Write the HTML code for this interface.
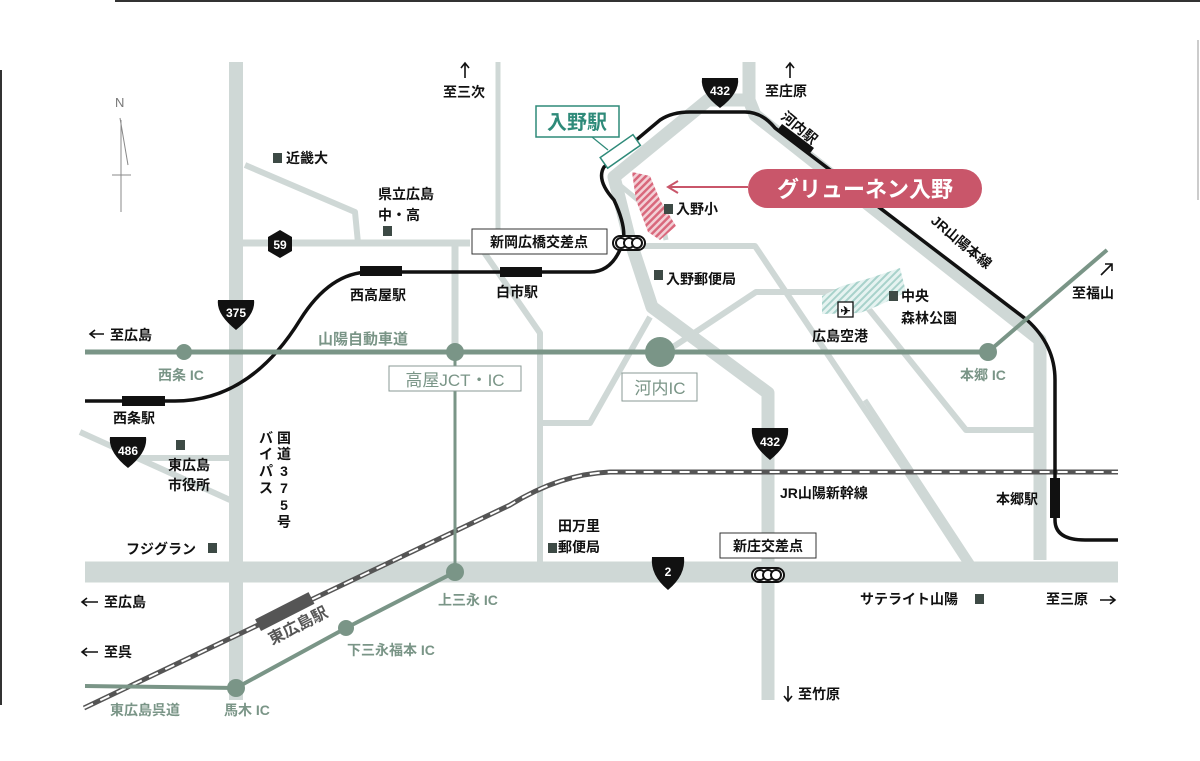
<!DOCTYPE html>
<html><head><meta charset="utf-8"><style>
html,body{margin:0;padding:0;background:#fff;}
svg{display:block;}
text{font-family:"Liberation Sans","Noto Sans CJK JP",sans-serif;font-weight:bold;}
</style></head><body>
<svg width="1200" height="761" viewBox="0 0 1200 761" xmlns="http://www.w3.org/2000/svg">
<defs>
<pattern id="ph" width="5" height="5" patternUnits="userSpaceOnUse" patternTransform="rotate(45)"><rect width="5" height="5" fill="#f2d0d6"/><rect width="2.5" height="5" fill="#d9687c"/></pattern>
<pattern id="th" width="5" height="5" patternUnits="userSpaceOnUse" patternTransform="rotate(45)"><rect width="5" height="5" fill="#e6f3f1"/><rect width="2" height="5" fill="#a8d2cb"/></pattern>
</defs>
<!-- frame -->
<line x1="115" y1="1" x2="1200" y2="1" stroke="#333" stroke-width="2"/>
<line x1="1" y1="70" x2="1" y2="705" stroke="#333" stroke-width="2"/>
<line x1="1198" y1="40" x2="1198" y2="200" stroke="#999" stroke-width="1"/>
<!-- north -->
<text x="115" y="107" font-size="13" fill="#777" style="font-weight:normal">N</text>
<polyline points="120,118 128,165" fill="none" stroke="#888" stroke-width="1"/>
<line x1="121" y1="120" x2="121" y2="212" stroke="#888" stroke-width="1"/>
<line x1="112" y1="175" x2="131" y2="175" stroke="#888" stroke-width="1"/>
<!-- gray roads -->
<g fill="none" stroke="#cfd8d6" stroke-linejoin="round">
<line x1="236" y1="62" x2="236" y2="700" stroke-width="14"/>
<polyline points="245,165 355,212 358,243" stroke-width="6"/>
<line x1="240" y1="243" x2="470" y2="243" stroke-width="7"/>
<line x1="455" y1="243" x2="455" y2="350" stroke-width="7"/>
<line x1="498" y1="62" x2="498" y2="230" stroke-width="5"/>
<polyline points="479,245 540,333 540,572" stroke-width="6"/>
<polyline points="640,246 755,246 910,477 972,572" stroke-width="6"/>
<polyline points="543,423 590,423 650,317" stroke-width="6"/>
<polyline points="673,347 756,292 855,292 966,430 1040,430" stroke-width="6"/>
<polyline points="749,62 749,100 708,100 614,177 629,237 652,307 768,393 768,700" stroke-width="13"/>
<polyline points="749,100 755,115 1040,340 1040,560" stroke-width="13"/>
<polyline points="616,182 662,220 666,240" stroke-width="5"/>
<line x1="865" y1="400" x2="972" y2="563" stroke-width="5"/>
<polyline points="80,432 230,500" stroke-width="6"/>
<line x1="140" y1="458" x2="236" y2="458" stroke-width="6"/>
<line x1="85" y1="572" x2="1118" y2="572" stroke-width="21"/>
</g>
<!-- hatched areas -->
<polygon points="632,172 650,176 660,200 676,226 660,240 648,232 636,200" fill="url(#ph)"/>
<polygon points="822,296 842,286 870,278 900,268 906,292 880,305 860,313 822,314" fill="url(#th)"/>
<!-- shinkansen -->
<path d="M84,708 L510,505 Q560,474 610,472 L1118,472" fill="none" stroke="#555" stroke-width="5"/>
<path d="M84,708 L510,505 Q560,474 610,472 L1118,472" fill="none" stroke="#fff" stroke-width="2" stroke-dasharray="10,8"/>
<!-- rail -->
<path d="M85,401 L175,401 Q250,401 300,320 Q330,272 370,272 L590,272 Q612,272 622,245 Q628,230 614,200 Q596,180 604,167 L660,120 Q672,112 690,112 L745,112 Q762,112 775,128 L1027,320 Q1055,345 1055,380 L1055,520 Q1055,540 1085,540 L1118,540" fill="none" stroke="#111" stroke-width="3.5"/>
<g fill="#111">
<rect x="360" y="266" width="42" height="10"/>
<rect x="500" y="267" width="42" height="10"/>
<rect x="122" y="396" width="43" height="10"/>
<rect x="1050" y="478" width="10" height="40"/>
<rect x="775" y="135" width="40" height="9" transform="rotate(37 795 140)"/>
<rect x="255" y="605" width="60" height="13" transform="rotate(-27 285 612)" fill="#555"/>
</g>
<!-- green expressway -->
<g stroke="#7a9587" fill="none">
<line x1="85" y1="352" x2="990" y2="352" stroke-width="5"/>
<line x1="988" y1="352" x2="1107" y2="250" stroke-width="4"/>
<line x1="455" y1="352" x2="455" y2="572" stroke-width="3"/>
<polyline points="455,572 346,628 236,688 85,686" stroke-width="4"/>
</g>
<g fill="#7a9587">
<circle cx="184" cy="352" r="8"/><circle cx="455" cy="352" r="9"/><circle cx="660" cy="352" r="15"/><circle cx="988" cy="352" r="9"/>
<circle cx="455" cy="572" r="9"/><circle cx="346" cy="628" r="8"/><circle cx="236" cy="688" r="9"/>
</g>
<!-- shields -->
<g fill="#111">
<polygon points="280,230 292,237 292,251 280,258 268,251 268,237"/>
<path d="M218,300 L254,300 Q256,314 236,330 Q216,314 218,300Z"/>
<path d="M110,437 L146,437 Q148,452 128,468 Q108,452 110,437Z"/>
<path d="M702,78 L738,78 Q740,93 720,108 Q700,93 702,78Z"/>
<path d="M752,428 L788,428 Q790,444 770,460 Q750,444 752,428Z"/>
<path d="M652,557 L684,557 Q686,575 668,590 Q650,575 652,557Z"/>
</g>
<g fill="#fff" font-size="12" text-anchor="middle">
<text x="280" y="249">59</text><text x="236" y="317">375</text><text x="128" y="455">486</text>
<text x="720" y="95">432</text><text x="770" y="446">432</text><text x="668" y="576">2</text>
</g>
<!-- traffic lights -->
<g stroke="#111" stroke-width="2" fill="#fff">
<rect x="613" y="236" width="32" height="14" rx="7"/>
<circle cx="621" cy="243" r="5"/><circle cx="629" cy="243" r="5"/><circle cx="637" cy="243" r="5"/>
<rect x="752" y="568" width="32" height="14" rx="7"/>
<circle cx="760" cy="575" r="5"/><circle cx="768" cy="575" r="5"/><circle cx="776" cy="575" r="5"/>
</g>
<!-- boxes -->
<rect x="472" y="229" width="135" height="25" fill="#fff" stroke="#333" stroke-width="1"/>
<text x="539" y="247" font-size="14" text-anchor="middle" fill="#111">新岡広橋交差点</text>
<rect x="720" y="533" width="96" height="25" fill="#fff" stroke="#333" stroke-width="1"/>
<text x="768" y="551" font-size="14" text-anchor="middle" fill="#111">新庄交差点</text>
<rect x="389" y="366" width="132" height="25" fill="#fff" stroke="#8a9a94" stroke-width="1"/>
<text x="455" y="386" font-size="17" text-anchor="middle" fill="#7a9587" style="font-weight:normal">高屋JCT・IC</text>
<rect x="622" y="373" width="75" height="28" fill="#fff" stroke="#8a9a94" stroke-width="1"/>
<text x="660" y="394" font-size="17" text-anchor="middle" fill="#7a9587" style="font-weight:normal">河内IC</text>
<!-- iriino station -->
<rect x="536" y="106" width="83" height="31" fill="#fff" stroke="#2e8a79" stroke-width="1.5"/>
<text x="577" y="129" font-size="20" text-anchor="middle" fill="#2e8a79">入野駅</text>
<line x1="592" y1="137" x2="608" y2="150" stroke="#2e8a79" stroke-width="1.2"/>
<rect x="600" y="145" width="40" height="13" fill="#fff" stroke="#2e8a79" stroke-width="1.5" transform="rotate(-35 620 151)"/>
<!-- gruenen -->
<line x1="668" y1="187" x2="748" y2="187" stroke="#c9566a" stroke-width="2"/>
<polyline points="678,181 668,187 678,193" fill="none" stroke="#c9566a" stroke-width="2"/>
<rect x="748" y="169" width="234" height="39" rx="19.5" fill="#c9566a"/>
<text x="865" y="197" font-size="22" text-anchor="middle" fill="#fff">グリューネン入野</text>
<!-- poi squares -->
<g fill="#3d4a45">
<rect x="273" y="153" width="9" height="10"/><rect x="383" y="226" width="9" height="10"/>
<rect x="664" y="204" width="9" height="10"/><rect x="654" y="270" width="9" height="10"/>
<rect x="889" y="291" width="9" height="10"/><rect x="176" y="440" width="9" height="10"/>
<rect x="208" y="543" width="9" height="10"/><rect x="548" y="543" width="9" height="10"/>
<rect x="975" y="594" width="9" height="10"/>
</g>
<!-- airport icon -->
<rect x="838" y="302" width="15" height="15" fill="#fff" stroke="#111" stroke-width="1.3"/>
<text x="845.5" y="315" font-size="12" text-anchor="middle" fill="#111">✈</text>
<!-- labels black -->
<g font-size="14" fill="#111">
<text x="286" y="163">近畿大</text>
<text x="378" y="199">県立広島</text><text x="378" y="220">中・高</text>
<text x="443" y="97">至三次</text>
<text x="765" y="96">至庄原</text>
<text x="676" y="214">入野小</text>
<text x="666" y="284">入野郵便局</text>
<text x="901" y="301">中央</text><text x="901" y="323">森林公園</text>
<text x="812" y="341">広島空港</text>
<text x="1072" y="298">至福山</text>
<text x="350" y="300">西高屋駅</text>
<text x="496" y="297">白市駅</text>
<text x="113" y="423">西条駅</text>
<text x="110" y="340">至広島</text>
<text x="168" y="470">東広島</text><text x="168" y="490">市役所</text>
<text x="126" y="554">フジグラン</text>
<text x="558" y="531">田万里</text><text x="558" y="552">郵便局</text>
<text x="780" y="498">JR山陽新幹線</text>
<text x="996" y="504">本郷駅</text>
<text x="860" y="604">サテライト山陽</text>
<text x="1046" y="604">至三原</text>
<text x="104" y="607">至広島</text>
<text x="104" y="657">至呉</text>
<text x="798" y="699">至竹原</text>
</g>
<!-- arrows -->
<g fill="none" stroke="#111" stroke-width="1.6">
<path d="M90,334 H104 M95,330 L90,334 L95,338"/>
<path d="M82,602 H98 M87,598 L82,602 L87,606"/>
<path d="M82,652 H98 M87,648 L82,652 L87,656"/>
<path d="M1100,600 H1115 M1110,596 L1115,600 L1110,604"/>
<path d="M465,78 V63 M461,68 L465,63 L469,68"/>
<path d="M790,78 V63 M786,68 L790,63 L794,68"/>
<path d="M788,686 V701 M784,696 L788,701 L792,696"/>
<path d="M1101,275 L1112,264 M1105,264 L1112,264 L1112,271"/>
</g>
<!-- vertical text -->
<g font-size="14" fill="#111" text-anchor="middle">
<text x="284" y="443">国</text><text x="284" y="459">道</text><text x="284" y="476">3</text><text x="284" y="493">7</text><text x="284" y="510">5</text><text x="284" y="527">号</text>
<text x="266" y="443">バ</text><text x="266" y="459">イ</text><text x="266" y="476">パ</text><text x="266" y="493">ス</text>
</g>
<!-- rotated -->
<text x="780" y="118" font-size="14" fill="#111" transform="rotate(40 780 118)">河内駅</text>
<text x="930" y="222" font-size="14" fill="#111" transform="rotate(40 930 222)">JR山陽本線</text>
<text x="272" y="645" font-size="16" fill="#555" transform="rotate(-27 272 645)">東広島駅</text>
<!-- green labels -->
<g font-size="14" fill="#7a9587">
<text x="318" y="344" font-size="15">山陽自動車道</text>
<text x="158" y="380">西条 IC</text>
<text x="960" y="380">本郷 IC</text>
<text x="438" y="605">上三永 IC</text>
<text x="347" y="655">下三永福本 IC</text>
<text x="110" y="715">東広島呉道</text>
<text x="224" y="715">馬木 IC</text>
</g>
</svg>
</body></html>
